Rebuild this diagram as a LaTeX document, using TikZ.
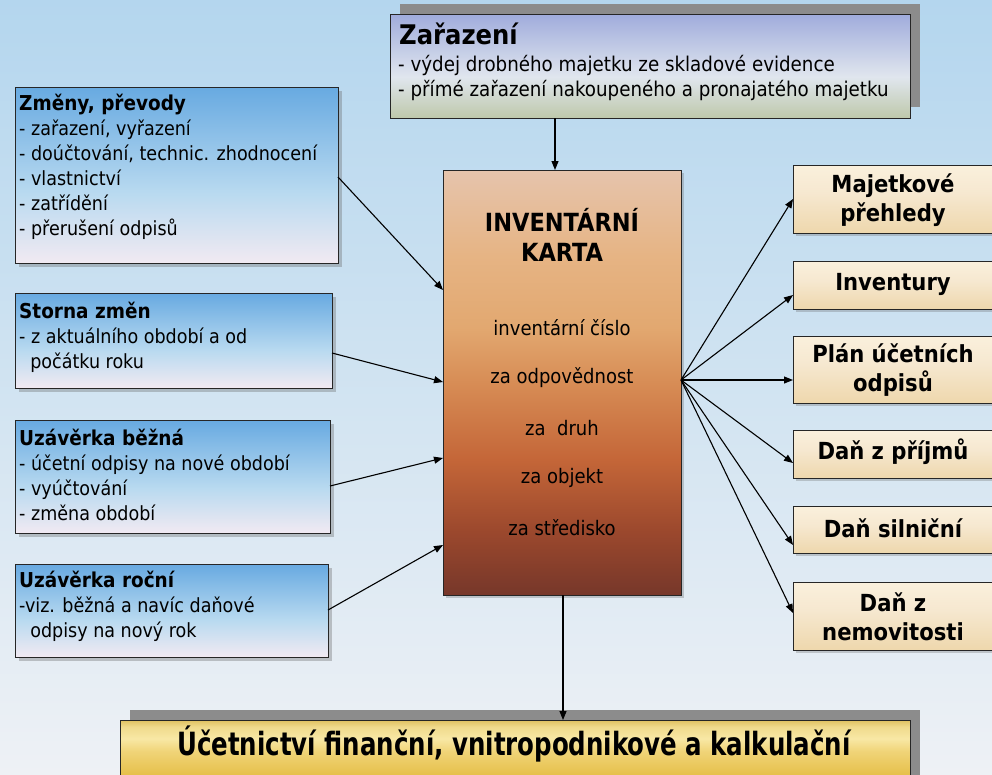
\documentclass[tikz,border=0pt]{standalone}
\usepackage{fontspec}
\usepackage{graphicx}
\setmainfont{DejaVu Sans Condensed}
\usetikzlibrary{arrows.meta,shadows}
\definecolor{bgtop}{RGB}{180,214,238}
\definecolor{bgbot}{RGB}{238,241,245}
\definecolor{hardshadow}{RGB}{140,140,140}
\definecolor{lb0}{RGB}{242,234,242}
\definecolor{lb1}{RGB}{185,218,240}
\definecolor{lb2}{RGB}{104,170,225}
\definecolor{cd0}{RGB}{118,55,42}
\definecolor{cd1}{RGB}{155,72,45}
\definecolor{cd2}{RGB}{196,102,56}
\definecolor{cd3}{RGB}{215,140,85}
\definecolor{cd4}{RGB}{226,168,112}
\definecolor{cd5}{RGB}{230,180,132}
\definecolor{cd6}{RGB}{230,196,172}
\definecolor{rb0}{RGB}{238,215,172}
\definecolor{rb1}{RGB}{246,232,208}
\definecolor{rb2}{RGB}{250,240,220}
\definecolor{zr0}{RGB}{190,200,170}
\definecolor{zr1}{RGB}{224,230,238}
\definecolor{zr2}{RGB}{160,172,220}
\definecolor{gd0}{RGB}{215,175,50}
\definecolor{gd1}{RGB}{230,192,75}
\definecolor{gd2}{RGB}{240,212,120}
\definecolor{gd3}{RGB}{248,232,165}
\definecolor{gd4}{RGB}{240,218,140}
\definecolor{gd5}{RGB}{225,195,100}
% visible range of a shading is 25bp..75bp
\pgfdeclareverticalshading{leftshade}{100bp}{color(0bp)=(lb0); color(25bp)=(lb0); color(45bp)=(lb1); color(75bp)=(lb2); color(100bp)=(lb2)}
\pgfdeclareverticalshading{cardshade}{100bp}{color(0bp)=(cd0); color(25bp)=(cd0); color(32.5bp)=(cd1); color(41bp)=(cd2); color(50bp)=(cd3); color(56.5bp)=(cd4); color(65bp)=(cd5); color(75bp)=(cd6); color(100bp)=(cd6)}
\pgfdeclareverticalshading{rightshade}{100bp}{color(0bp)=(rb0); color(25bp)=(rb0); color(55bp)=(rb1); color(75bp)=(rb2); color(100bp)=(rb2)}
\pgfdeclareverticalshading{zarshade}{100bp}{color(0bp)=(zr0); color(25bp)=(zr0); color(45bp)=(zr1); color(75bp)=(zr2); color(100bp)=(zr2)}
\pgfdeclareverticalshading{goldshade}{100bp}{color(0bp)=(gd0); color(25bp)=(gd0); color(45bp)=(gd1); color(58bp)=(gd2); color(65bp)=(gd3); color(71.5bp)=(gd4); color(75bp)=(gd5); color(100bp)=(gd5)}
\tikzset{
  boxbase/.style={draw=black!85, line width=1.2pt, inner sep=0pt, anchor=north west},
  leftbox/.style={boxbase, shading=leftshade, drop shadow={shadow xshift=3pt, shadow yshift=-3pt, opacity=0.35, fill=black!60}},
  rightbox/.style={boxbase, shading=rightshade, minimum width=220pt, drop shadow={shadow xshift=2pt, shadow yshift=-2pt, opacity=0.3, fill=black!60}},
  cardbox/.style={boxbase, shading=cardshade, drop shadow={shadow xshift=2pt, shadow yshift=-2pt, opacity=0.3, fill=black!60}},
  lefttext/.style={anchor=north west, inner sep=0pt, align=left, font=\fontsize{19.5}{25}\selectfont},
  righttext/.style={inner sep=0pt, align=center, font=\fontsize{23.5}{29}\selectfont\bfseries},
  cardtext/.style={inner sep=0pt, align=center, font=\fontsize{20}{24}\selectfont},
  conn/.style={draw=black, line width=1.1pt, -{Triangle[length=9pt,width=7pt]}},
}
\newcommand{\ttl}[1]{{\fontsize{20.5}{25}\selectfont\bfseries #1}}
\begin{document}
\begin{tikzpicture}[x=1pt,y=-1pt]
\clip (0,0) rectangle (992,774);
\shade[top color=bgtop, bottom color=bgbot] (0,0) rectangle (992,774);

% Zarazeni
\fill[hardshadow] (400,4) rectangle (920,107);
\node[boxbase, shading=zarshade, minimum width=520pt, minimum height=104pt] (zar) at (390,14) {};
\node[anchor=north west, inner sep=0pt, align=left, font=\fontsize{27}{30}\selectfont\bfseries] (zart) at (399,23) {Zařazení};
\node[lefttext, font=\fontsize{20.3}{25}\selectfont] (zarl) at (398,55) {- výdej drobného majetku ze skladové evidence\\- přímé zařazení nakoupeného a pronajatého majetku};

% Inventory card
\node[cardbox, minimum width=238pt, minimum height=425pt] (card) at (443,170) {};
\node[cardtext, font=\fontsize{25}{30}\selectfont\bfseries] (cardt) at (562,235) {INVENTÁRNÍ\\KARTA};
\node[cardtext] (c1) at (562,328) {inventární číslo};
\node[cardtext] (c2) at (562,378) {za odpovědnost};
\node[cardtext] (c3) at (562,428) {za\ \ druh};
\node[cardtext] (c4) at (562,478) {za objekt};
\node[cardtext] (c5) at (562,528) {za středisko};

% Left boxes
\node[leftbox, minimum width=323pt, minimum height=176pt] (zm) at (15,87) {};
\node[lefttext] (zmt) at (19,94) {\ttl{Změny, převody}\\- zařazení, vyřazení\\- doúčtování, technic. zhodnocení\\- vlastnictví\\- zatřídění\\- přerušení odpisů};
\node[leftbox, minimum width=317pt, minimum height=95pt] (st) at (15,293) {};
\node[lefttext] (stt) at (19,302) {\ttl{Storna změn}\\- z aktuálního období a od\\\ \ počátku roku};
\node[leftbox, minimum width=315pt, minimum height=113pt] (ub) at (15,420) {};
\node[lefttext] (ubt) at (19,429) {\ttl{Uzávěrka běžná}\\- účetní odpisy na nové období\\- vyúčtování\\- změna období};
\node[leftbox, minimum width=313pt, minimum height=93pt] (ur) at (15,564) {};
\node[lefttext] (urt) at (19,571) {\ttl{Uzávěrka roční}\\-viz. běžná a navíc daňové\\\ \ odpisy na nový rok};

% Right boxes
\node[rightbox, minimum height=68pt] (r1) at (793,165) {};
\node[righttext] (r1t) at (893,200) {Majetkové\\přehledy};
\node[rightbox, minimum height=48pt] (r2) at (793,261) {};
\node[righttext] (r2t) at (893,284) {Inventury};
\node[rightbox, minimum height=67pt] (r3) at (793,336) {};
\node[righttext] (r3t) at (893,370) {Plán účetních\\odpisů};
\node[rightbox, minimum height=48pt] (r4) at (793,430) {};
\node[righttext] (r4t) at (893,452) {Daň z příjmů};
\node[rightbox, minimum height=47pt] (r5) at (793,506) {};
\node[righttext] (r5t) at (893,528) {Daň silniční};
\node[rightbox, minimum height=68pt] (r6) at (793,582) {};
\node[righttext] (r6t) at (893,617) {Daň z\\nemovitosti};

% Bottom bar
\fill[hardshadow] (130,710) rectangle (920,800);
\node[boxbase, shading=goldshade, minimum width=790pt, minimum height=90pt] (bar) at (120,720) {};
\node[inner sep=0pt, font=\fontsize{32}{34}\selectfont\bfseries] (bart) at (514,744) {\scalebox{0.85}[1]{Účetnictví finanční, vnitropodnikové a kalkulační}};

% Connectors
\coordinate (zarout) at (555,118);
\coordinate (cardin) at (555,170);
\draw[conn] (zarout) -- (cardin);
\coordinate (cardout) at (563,595);
\coordinate (barin) at (563,720);
\draw[conn] (cardout) -- (barin);

\coordinate (l1s) at (338,177); \coordinate (l1e) at (443,290);
\coordinate (l2s) at (332,353); \coordinate (l2e) at (443,382);
\coordinate (l3s) at (330,486); \coordinate (l3e) at (443,458);
\coordinate (l4s) at (328,610); \coordinate (l4e) at (443,545);
\draw[conn] (l1s) -- (l1e);
\draw[conn] (l2s) -- (l2e);
\draw[conn] (l3s) -- (l3e);
\draw[conn] (l4s) -- (l4e);

\coordinate (fan) at (681,380);
\draw[conn] (fan) -- (r1.west |- 0,199);
\draw[conn] (fan) -- (r2.west |- 0,295);
\draw[conn] (fan) -- (r3.west |- 0,380);
\draw[conn] (fan) -- (r4.west |- 0,463);
\draw[conn] (fan) -- (r5.west |- 0,545);
\draw[conn] (fan) -- (r6.west |- 0,613);
\end{tikzpicture}
\end{document}
